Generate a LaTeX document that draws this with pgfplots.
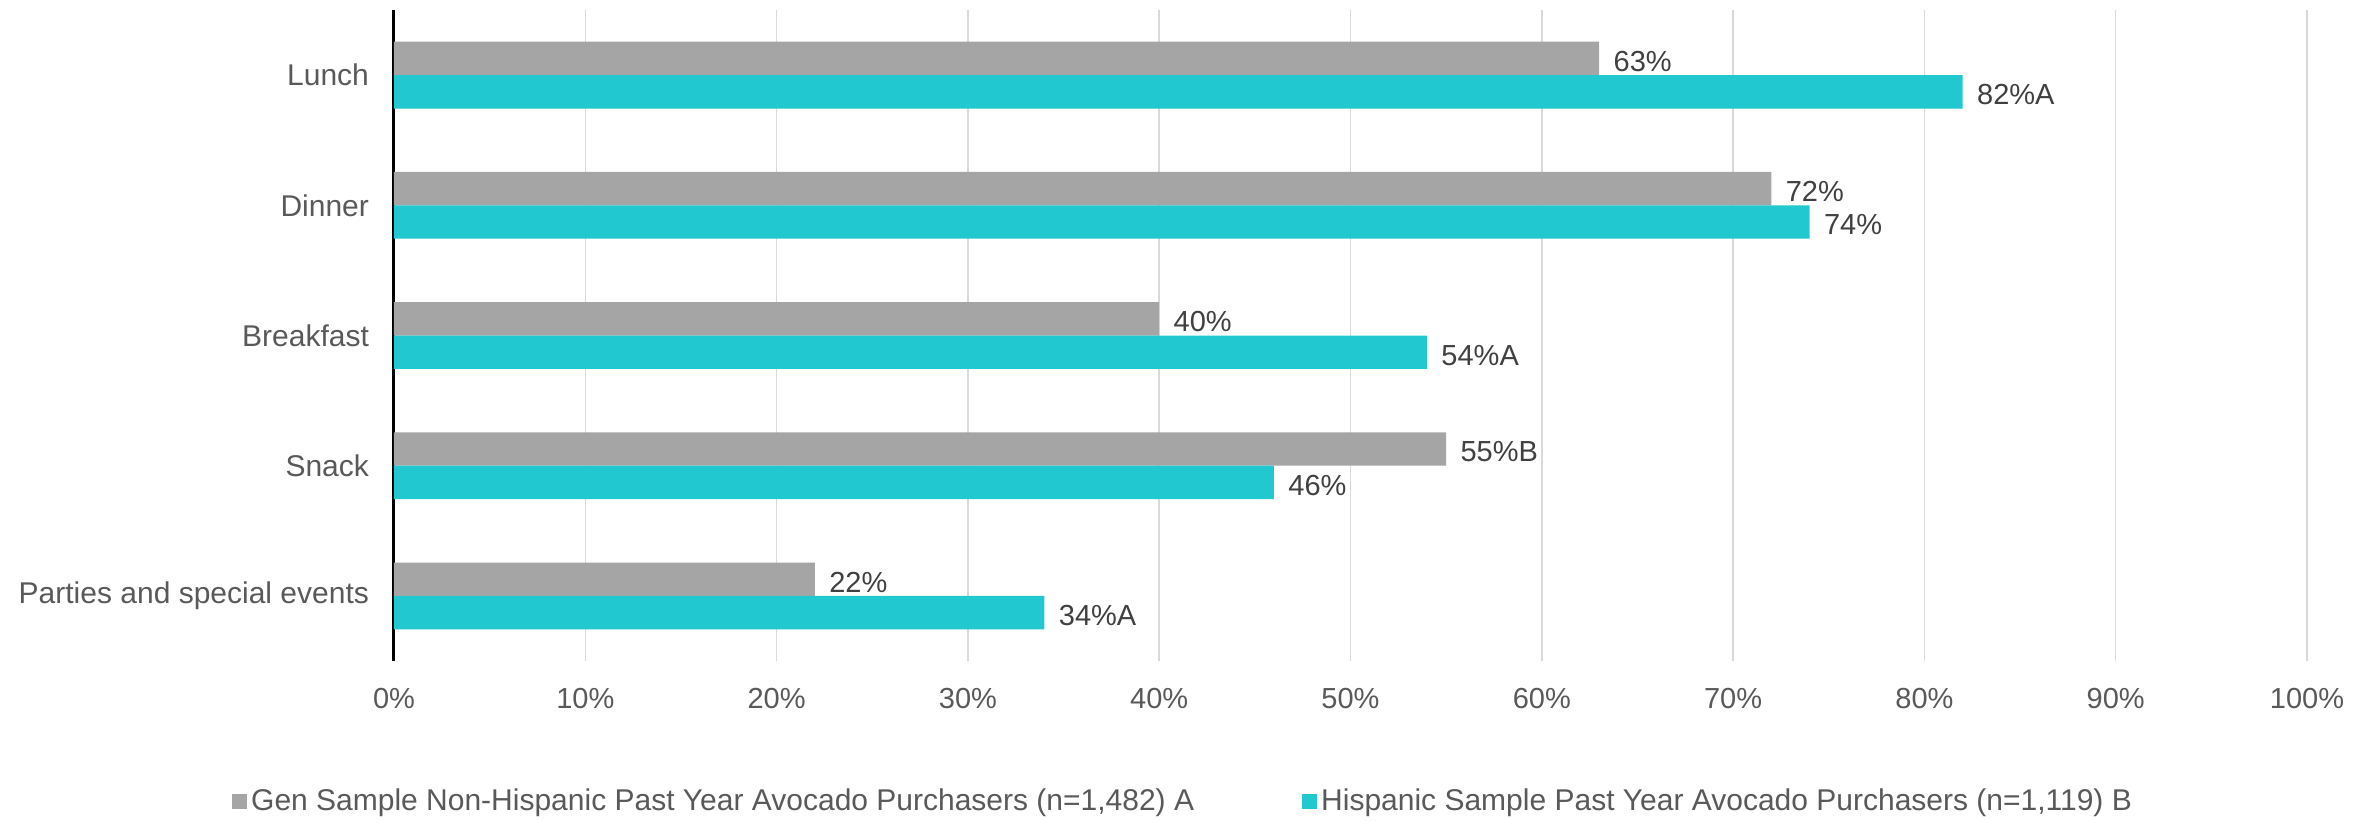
\documentclass[border=0pt]{standalone}
\usepackage{fontspec}
\setmainfont{Liberation Sans}
\usepackage{pgfplots}
\pgfplotsset{compat=1.18}
\definecolor{gbar}{HTML}{A5A5A5}
\definecolor{tbar}{HTML}{21C8CF}
\definecolor{gridc}{HTML}{D9D9D9}
\definecolor{lab}{HTML}{595959}
\definecolor{dlab}{HTML}{404040}
\newcommand{\cf}{\fontsize{14.5}{17}\selectfont}
\newcommand{\lf}{\fontsize{15}{18}\selectfont}
\begin{document}
\begin{tikzpicture}
\useasboundingbox (-197pt,-79.5pt) rectangle (992.5pt,330.5pt);
\begin{axis}[
 at={(0,0)}, anchor=south west,
 width=956.5pt, height=325.5pt, scale only axis,
 xbar,
 xmin=0, xmax=100,
 ymin=-0.5, ymax=4.5, y dir=reverse,
 ytick={0,1,2,3,4},
 yticklabels={Lunch,Dinner,Breakfast,Snack,Parties and special events},
 xtick={0,10,...,100},
 xticklabel={\pgfmathprintnumber{\tick}\%},
 /pgf/number format/assume math mode=true,
 major tick length=0pt,
 xmajorgrids, grid style={gridc, line width=0.75pt},
 separate axis lines,
 axis x line*=bottom, axis y line*=left,
 x axis line style={draw=none},
 y axis line style={black, line width=1.5pt},
 ticklabel style={font=\cf, text=lab},
 xticklabel style={yshift=-10pt},
 yticklabel style={xshift=-9pt, font=\lf},
 nodes near coords, point meta=explicit symbolic,
 every node near coord/.append style={font=\cf, text=dlab, anchor=west, xshift=3.7pt, yshift=-1.5pt},
 bar width=16.7pt,
 legend style={at={(0.413,-0.2157)}, anchor=center, draw=none, fill=none, legend columns=2, font=\lf, text=lab, /tikz/every even column/.append style={column sep=52pt}},
 legend cell align=left,
 legend image code/.code={\fill[#1] (0pt,-3.75pt) rectangle (7.5pt,3.75pt);},
 clip=false,
]
\addplot[fill=gbar, draw=none, bar shift=8.35pt] coordinates {(63,0) [63\%] (72,1) [72\%] (40,2) [40\%] (55,3) [55\%B] (22,4) [22\%]};
\addplot[fill=tbar, draw=none, bar shift=-8.35pt] coordinates {(82,0) [82\%A] (74,1) [74\%] (54,2) [54\%A] (46,3) [46\%] (34,4) [34\%A]};
\legend{{Gen Sample Non-Hispanic Past Year Avocado Purchasers (n=1,482) A}, {Hispanic Sample Past Year Avocado Purchasers (n=1,119) B}}
\end{axis}
\end{tikzpicture}
\end{document}
